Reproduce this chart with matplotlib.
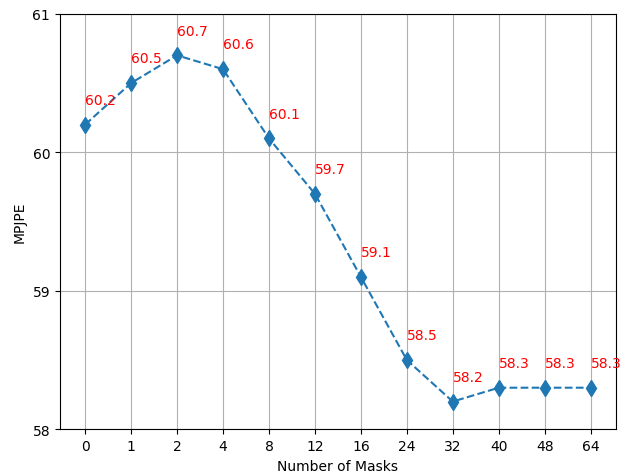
import matplotlib
matplotlib.use("Agg")
import matplotlib.pyplot as plt

# number of masks vs MPJPE
masks = ['0', '1', '2', '4', '8', '12', '16', '24', '32', '40', '48', '64']
mpjpe = [60.2, 60.5, 60.7, 60.6, 60.1, 59.7, 59.1, 58.5, 58.2, 58.3, 58.3, 58.3]

fig, ax = plt.subplots(figsize=(6.24, 4.77), dpi=100)

x = list(range(len(masks)))
ax.plot(x, mpjpe, linestyle='--', marker='d', markersize=8)

# value labels above each point
for i, v in zip(x, mpjpe):
    ax.text(i, v + 0.15, f"{v}", color='red')

ax.set_xticks(x)
ax.set_xticklabels(masks)
ax.set_ylim(58, 61)
ax.set_yticks([58, 59, 60, 61])
ax.set_xlabel('Number of Masks')
ax.set_ylabel('MPJPE')
ax.grid(True)

plt.subplots_adjust(left=0.096, right=0.987, top=0.969, bottom=0.098)
plt.savefig('out.png', dpi=100)
